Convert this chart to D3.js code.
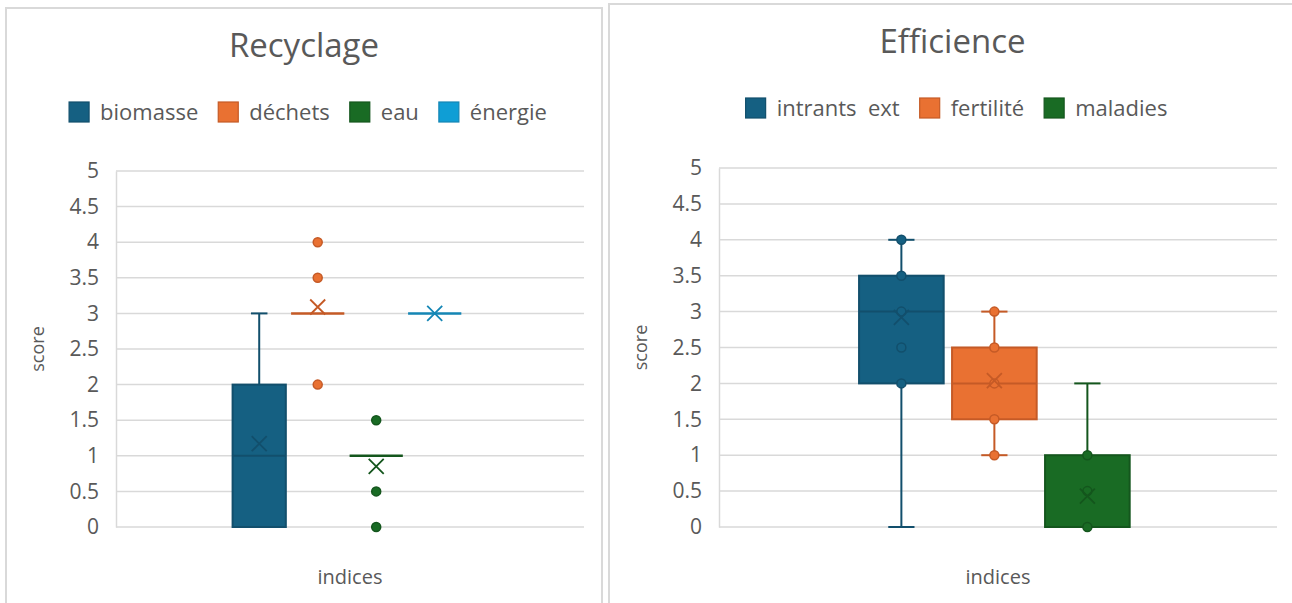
<!DOCTYPE html>
<html><head><meta charset="utf-8">
<script src="https://cdn.jsdelivr.net/npm/d3@7"></script>
<style>
html,body{margin:0;padding:0;background:#fff;}
svg{display:block;font-family:"Open Sans","Noto Sans",sans-serif;}
</style></head>
<body>
<svg id="chart" width="1292" height="603"></svg>
<script>
// ---------- DATA ----------
const yTicks = [0, 0.5, 1, 1.5, 2, 2.5, 3, 3.5, 4, 4.5, 5];
const categoryLabel = ["indices"];

const recTitle = "Recyclage";
const recSeries = ["biomasse", "déchets", "eau", "énergie"];
const recMin    = [0, 3, 1, 3];
const recQ1     = [0, 3, 1, 3];
const recMedian = [1, 3, 1, 3];
const recQ3     = [2, 3, 1, 3];
const recMax    = [3, 3, 1, 3];
const recMean   = [1.17, 3.09, 0.85, 3];
const recPoints = [[], [4, 3.5, 2], [1.5, 0.5, 0], []];

const effTitle = "Efficience";
const effSeries = ["intrants  ext", "fertilité", "maladies"];
const effMin    = [0, 1, 0];
const effQ1     = [2, 1.5, 0];
const effMedian = [3, 2, 0];
const effQ3     = [3.5, 2.5, 1];
const effMax    = [4, 3, 2];
const effMean   = [2.92, 2.04, 0.43];
const effPoints = [[4, 3.5, 3, 2.5, 2], [3, 2.5, 2, 1.5, 1], [1, 0.5, 0]];

const fills   = ["#156082", "#E97132", "#196B24", "#0F9ED5"];
const strokes = ["#124f6c", "#c55a26", "#14561d", "#1486b5"];

// ---------- DRAW ----------
const svg = d3.select("#chart");
const textColor = "#595959";
const gridColor = "#d9d9d9";

function panel(cfg) {
  const g = svg.append("g");
  g.append("rect")
    .attr("x", cfg.px0).attr("y", cfg.py0)
    .attr("width", cfg.px1 - cfg.px0).attr("height", cfg.py1 - cfg.py0)
    .attr("fill", "#fff").attr("stroke", gridColor).attr("stroke-width", 2);

  const cx = (cfg.px0 + cfg.px1) / 2;
  g.append("text").attr("x", cx).attr("y", cfg.py0 + 49)
    .attr("text-anchor", "middle").attr("fill", textColor)
    .attr("font-size", 33).text(cfg.title);

  // legend
  const leg = g.append("g");
  const items = leg.selectAll("g").data(cfg.series).join("g");
  items.append("rect").attr("width", 20).attr("height", 20).attr("y", -10)
    .attr("fill", (d, i) => fills[i]).attr("stroke", (d, i) => strokes[i]).attr("stroke-width", 1.2);
  items.append("text").attr("x", 31).attr("y", 0).attr("dy", "0.35em")
    .attr("fill", textColor).attr("font-size", 22)
    .style("white-space", "pre").attr("xml:space", "preserve")
    .text(d => d);
  let xoff = 0;
  items.each(function () {
    const w = 31 + d3.select(this).select("text").node().getComputedTextLength();
    d3.select(this).attr("transform", `translate(${xoff},0)`);
    xoff += w + 20;
  });
  const totalW = xoff - 20;
  leg.attr("transform", `translate(${cx + cfg.legShift - totalW / 2},${cfg.py0 + 104})`);

  // scales
  const y = d3.scaleLinear().domain([0, 5]).range([cfg.y0, cfg.y1]);
  const xCat = d3.scaleBand().domain(categoryLabel).range([cfg.x0, cfg.x1])
    .paddingInner(0).paddingOuter(0.5).align(0.487);
  const xSer = d3.scaleBand().domain(cfg.series)
    .range([xCat(categoryLabel[0]), xCat(categoryLabel[0]) + xCat.bandwidth()])
    .paddingInner(0.09).paddingOuter(0.045);

  // gridlines
  g.append("g").selectAll("line").data(yTicks).join("line")
    .attr("x1", cfg.x0).attr("x2", cfg.x1)
    .attr("y1", d => y(d)).attr("y2", d => y(d))
    .attr("stroke", gridColor).attr("stroke-width", 1.5);

  // axis
  const ax = g.append("g").attr("transform", `translate(${cfg.x0},0)`)
    .call(d3.axisLeft(y).tickValues(yTicks).tickSize(0).tickPadding(17).tickFormat(d3.format("")));
  ax.select(".domain").attr("stroke", gridColor).attr("stroke-width", 1.5);
  ax.selectAll("text").attr("fill", textColor).attr("font-size", 21)
    .attr("font-family", "'Open Sans','Noto Sans',sans-serif");

  g.append("text")
    .attr("transform", `translate(${cfg.x0 - 78},${(cfg.y0 + cfg.y1) / 2}) rotate(-90)`)
    .attr("text-anchor", "middle").attr("dy", "0.35em")
    .attr("fill", textColor).attr("font-size", 18).text("score");
  g.append("text").attr("x", (cfg.x0 + cfg.x1) / 2).attr("y", 584)
    .attr("text-anchor", "middle").attr("fill", textColor).attr("font-size", 20)
    .text(categoryLabel[0]);

  // boxes
  cfg.series.forEach((s, i) => {
    const bx = xSer(s), bw = xSer.bandwidth(), mx = bx + bw / 2;
    const bg = g.append("g");
    const capW = bw * 0.31;
    const st = strokes[i];
    if (cfg.max[i] > cfg.q3[i]) {
      bg.append("line").attr("x1", mx).attr("x2", mx).attr("y1", y(cfg.q3[i])).attr("y2", y(cfg.max[i]))
        .attr("stroke", st).attr("stroke-width", 2);
      bg.append("line").attr("x1", mx - capW / 2).attr("x2", mx + capW / 2)
        .attr("y1", y(cfg.max[i])).attr("y2", y(cfg.max[i])).attr("stroke", st).attr("stroke-width", 2);
    }
    if (cfg.min[i] < cfg.q1[i]) {
      bg.append("line").attr("x1", mx).attr("x2", mx).attr("y1", y(cfg.q1[i])).attr("y2", y(cfg.min[i]))
        .attr("stroke", st).attr("stroke-width", 2);
      bg.append("line").attr("x1", mx - capW / 2).attr("x2", mx + capW / 2)
        .attr("y1", y(cfg.min[i])).attr("y2", y(cfg.min[i])).attr("stroke", st).attr("stroke-width", 2);
    }
    if (cfg.q3[i] > cfg.q1[i]) {
      bg.append("rect").attr("x", bx).attr("width", bw)
        .attr("y", y(cfg.q3[i])).attr("height", y(cfg.q1[i]) - y(cfg.q3[i]))
        .attr("fill", fills[i]).attr("stroke", st).attr("stroke-width", 2);
    }
    bg.append("line").attr("x1", bx).attr("x2", bx + bw)
      .attr("y1", y(cfg.median[i])).attr("y2", y(cfg.median[i]))
      .attr("stroke", st).attr("stroke-width", cfg.q3[i] > cfg.q1[i] ? 2 : 2.5);
    bg.selectAll("circle").data(cfg.points[i]).join("circle")
      .attr("cx", mx).attr("cy", d => y(d)).attr("r", 4.5)
      .attr("fill", fills[i]).attr("stroke", st).attr("stroke-width", 1.5);
    const m = y(cfg.mean[i]), h = 7.5;
    bg.append("path")
      .attr("d", `M${mx - h},${m - h}L${mx + h},${m + h}M${mx - h},${m + h}L${mx + h},${m - h}`)
      .attr("stroke", st).attr("stroke-width", 1.8).attr("fill", "none");
  });
}

panel({
  px0: 6, py0: 8, px1: 602, py1: 640, legShift: 4,
  x0: 116, x1: 584, y0: 527, y1: 171,
  title: recTitle, series: recSeries,
  min: recMin, q1: recQ1, median: recMedian, q3: recQ3, max: recMax, mean: recMean, points: recPoints
});
panel({
  px0: 609, py0: 4, px1: 1296, py1: 640, legShift: 4,
  x0: 719, x1: 1277, y0: 527, y1: 168,
  title: effTitle, series: effSeries,
  min: effMin, q1: effQ1, median: effMedian, q3: effQ3, max: effMax, mean: effMean, points: effPoints
});
</script>
</body></html>
